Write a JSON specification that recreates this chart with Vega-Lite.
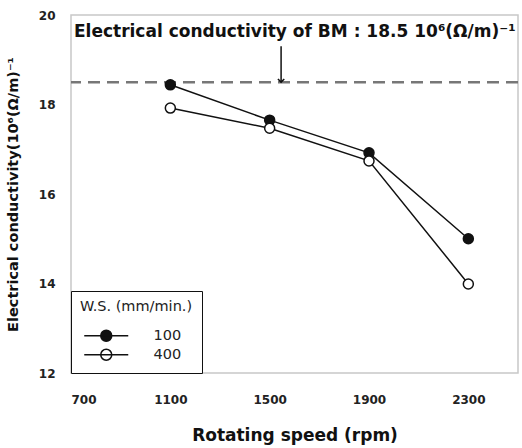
{
  "$schema": "https://vega.github.io/schema/vega-lite/v6.json",
  "width": 447,
  "height": 358,
  "autosize": {"type": "none"},
  "padding": {"left": 71, "top": 15, "right": 4, "bottom": 75},
  "background": "white",
  "config": {
    "font": "DejaVu Sans",
    "view": {"stroke": "#c8c8c8", "strokeWidth": 1.5},
    "axis": {
      "grid": false,
      "ticks": false,
      "domain": false,
      "labelFont": "DejaVu Sans",
      "labelFontWeight": "bold",
      "labelFontSize": 12,
      "labelColor": "#222",
      "titleFont": "DejaVu Sans",
      "titleFontWeight": "bold",
      "titleColor": "#111"
    }
  },
  "datasets": {
    "conductivity": [
      {"rpm": 1100, "ws": "100", "ec": 18.44},
      {"rpm": 1500, "ws": "100", "ec": 17.65},
      {"rpm": 1900, "ws": "100", "ec": 16.92},
      {"rpm": 2300, "ws": "100", "ec": 15.0},
      {"rpm": 1100, "ws": "400", "ec": 17.92},
      {"rpm": 1500, "ws": "400", "ec": 17.47},
      {"rpm": 1900, "ws": "400", "ec": 16.74},
      {"rpm": 2300, "ws": "400", "ec": 13.99}
    ],
    "baseMetal": [{"ec": 18.5, "label": "Electrical conductivity of BM : 18.5 10⁶(Ω/m)⁻¹", "labelX": 712, "labelY": 19.62, "arrowX": 1546, "arrowTop": 19.3}]
  },
  "layer": [
    {
      "data": {"name": "baseMetal"},
      "mark": {"type": "rule", "color": "#777", "strokeWidth": 2.5, "strokeDash": [12, 7]},
      "encoding": {
        "y": {"field": "ec", "type": "quantitative", "scale": {"domain": [12, 20]}}
      }
    },
    {
      "data": {"name": "baseMetal"},
      "mark": {"type": "rule", "color": "#111", "strokeWidth": 1.5},
      "encoding": {
        "x": {"field": "arrowX", "type": "quantitative"},
        "y": {"field": "arrowTop", "type": "quantitative"},
        "y2": {"field": "ec"}
      }
    },
    {
      "data": {"name": "baseMetal"},
      "mark": {"type": "point", "shape": "M-1,-1L0,0L1,-1", "filled": false, "stroke": "#111", "strokeWidth": 1.5, "size": 40, "opacity": 1},
      "encoding": {
        "x": {"field": "arrowX", "type": "quantitative"},
        "y": {"field": "ec", "type": "quantitative"}
      }
    },
    {
      "data": {"name": "baseMetal"},
      "mark": {"type": "text", "align": "left", "baseline": "middle", "font": "DejaVu Sans", "fontWeight": "bold", "fontSize": 17, "color": "#111"},
      "encoding": {
        "x": {"field": "labelX", "type": "quantitative"},
        "y": {"field": "labelY", "type": "quantitative"},
        "text": {"field": "label"}
      }
    },
    {
      "data": {"name": "conductivity"},
      "mark": {"type": "line", "color": "#111", "strokeWidth": 1.5},
      "encoding": {
        "x": {"field": "rpm", "type": "quantitative"},
        "y": {"field": "ec", "type": "quantitative"},
        "detail": {"field": "ws"}
      }
    },
    {
      "data": {"name": "conductivity"},
      "mark": {"type": "point", "shape": "circle", "filled": true, "stroke": "#111", "strokeWidth": 1.5, "size": 100, "opacity": 1},
      "encoding": {
        "x": {
          "field": "rpm",
          "type": "quantitative",
          "title": "Rotating speed (rpm)",
          "scale": {"domain": [700, 2500], "nice": false, "zero": false},
          "axis": {"values": [700, 1100, 1500, 1900, 2300], "format": "d", "labelPadding": 21, "titleFontSize": 17, "titlePadding": 22}
        },
        "y": {
          "field": "ec",
          "type": "quantitative",
          "title": "Electrical conductivity(10⁶(Ω/m)⁻¹",
          "scale": {"domain": [12, 20], "nice": false, "zero": false},
          "axis": {"values": [12, 14, 16, 18, 20], "labelPadding": 16, "titleFontSize": 14.5, "titlePadding": 18}
        },
        "fill": {
          "field": "ws",
          "type": "nominal",
          "scale": {"domain": ["100", "400"], "range": ["#111", "white"]},
          "legend": {
            "title": "W.S. (mm/min.)",
            "orient": "bottom-left",
            "offset": 0,
            "strokeColor": "#111",
            "fillColor": "white",
            "padding": 9,
            "titleFont": "DejaVu Sans",
            "titleFontWeight": "normal",
            "titleFontSize": 14.5,
            "titleColor": "#222",
            "titlePadding": 14,
            "labelFont": "DejaVu Sans",
            "labelFontSize": 14.5,
            "labelColor": "#222",
            "labelOffset": 40,
            "symbolType": "M-4,0H4M1,0A1,1,0,1,1,-1,0A1,1,0,1,1,1,0",
            "symbolSize": 121,
            "symbolOffset": 19,
            "symbolStrokeColor": "#111",
            "symbolStrokeWidth": 1.5,
            "rowPadding": 1
          }
        }
      }
    }
  ]
}
